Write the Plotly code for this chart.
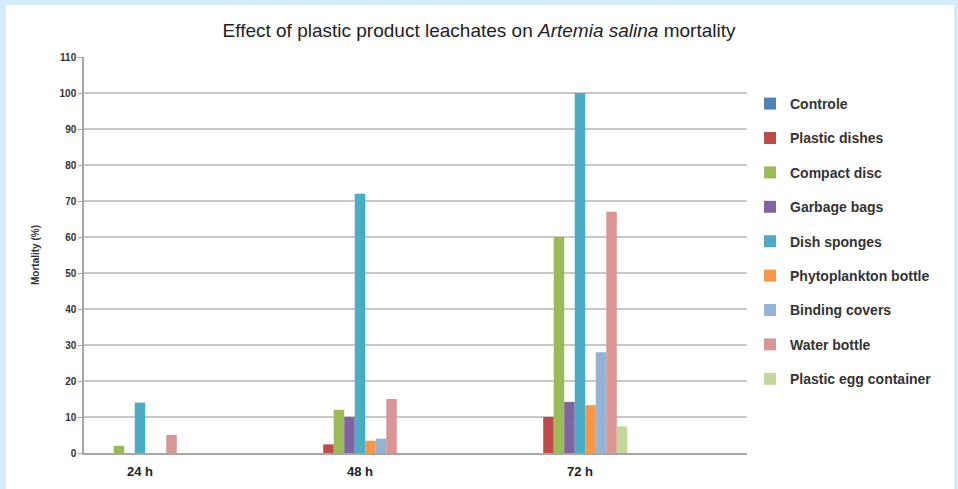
import plotly.graph_objects as go

categories = ["24 h", "48 h", "72 h"]
series_names = ["Controle", "Plastic dishes", "Compact disc", "Garbage bags", "Dish sponges",
                "Phytoplankton bottle", "Binding covers", "Water bottle", "Plastic egg container"]
values = {
    "Controle": [0, 0, 0],
    "Plastic dishes": [0, 2.4, 10],
    "Compact disc": [2, 12, 60],
    "Garbage bags": [0, 10, 14.2],
    "Dish sponges": [14, 72, 100],
    "Phytoplankton bottle": [0, 3.4, 13.3],
    "Binding covers": [0, 4, 28],
    "Water bottle": [5, 15, 67],
    "Plastic egg container": [0, 0, 7.4],
}
colors = ["#4F81BD", "#BE4B48", "#9BBB59", "#8064A2", "#4BACC6",
          "#F79646", "#95B3D7", "#D99694", "#C3D69B"]
y_ticks = list(range(0, 111, 10))

FONT = "Liberation Sans"
x_pos = list(range(len(categories)))

fig = go.Figure()
for name, col in zip(series_names, colors):
    fig.add_trace(go.Bar(
        x=x_pos, y=values[name], name=name, legendgroup=name,
        marker=dict(color=col, line=dict(width=0)),
    ))

L, R, T, B = 84, 747, 57, 453
W, H = 958, 489
pw, ph = R - L, B - T

def px_x(p):
    return (p - L) / pw

def px_y(p):
    return (B - p) / ph

fig.add_shape(type="rect", xref="paper", yref="paper",
              x0=px_x(6), x1=px_x(954), y0=px_y(489), y1=px_y(5),
              fillcolor="white", line=dict(width=0), layer="below")

fig.update_layout(
    width=W, height=H,
    margin=dict(l=L, r=W - R, t=T, b=H - B, autoexpand=False),
    paper_bgcolor="#D5EBFA",
    plot_bgcolor="white",
    barmode="group",
    bargap=0.57,
    bargroupgap=0,
    title=dict(text="Effect of plastic product leachates on <i>Artemia salina</i> mortality",
               x=0.5, xref="container", xanchor="center", y=1 - 30 / H, yref="container",
               yanchor="middle", font=dict(family=FONT, size=19, color="#222222")),
    font=dict(family=FONT, color="#333333"),
    legend=dict(x=px_x(750), y=px_y(88), xanchor="left", yanchor="top",
                font=dict(family=FONT, size=14, color="#333333", weight="bold"),
                tracegroupgap=13.2, itemwidth=30, bgcolor="rgba(0,0,0,0)"),
    showlegend=True,
)
fig.update_xaxes(
    range=[(L - 140) / 220, (R - 140) / 220],
    tickmode="array", tickvals=x_pos, ticktext=categories,
    showgrid=False, zeroline=False,
    showline=True, linecolor="#A6A6A6", linewidth=1.5,
    ticks="", ticklabelstandoff=6,
    tickfont=dict(family=FONT, size=13, color="#222222", weight="bold"),
)
fig.update_yaxes(
    range=[0, 110], tickmode="array", tickvals=y_ticks,
    showgrid=True, gridcolor="#C8C8C8", gridwidth=1.5,
    zeroline=False, showline=True, linecolor="#A6A6A6", linewidth=1.5,
    ticks="outside", ticklen=4, tickcolor="#A6A6A6",
    tickfont=dict(family=FONT, size=10, color="#333333", weight="bold"),
    title=dict(text="Mortality (%)", standoff=18,
               font=dict(family=FONT, size=10, color="#333333", weight="bold")),
)

fig.write_html("out.html", config={"displayModeBar": False},
               post_script="document.body.style.margin='0px';")
